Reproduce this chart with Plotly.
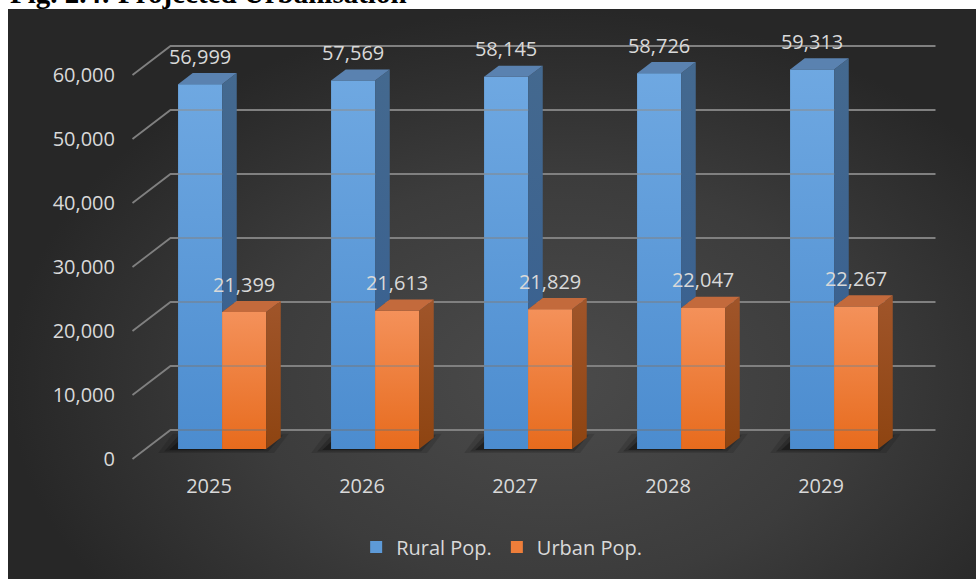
import plotly.graph_objects as go

# ---------------- data ----------------
years = ["2025", "2026", "2027", "2028", "2029"]
rural_pop = [56999, 57569, 58145, 58726, 59313]
urban_pop = [21399, 21613, 21829, 22047, 22267]
value_ticks = [0, 10000, 20000, 30000, 40000, 50000, 60000]
series_names = ["Rural Pop.", "Urban Pop."]

# ---------------- geometry of the oblique 3-D view ----------------
W, H = 976, 579
CAT_PX = 153.0              # pixels per category
VAL_PX = 64.0 / 10000       # pixels per unit of population
X0_PX, Y0_PX = 209.0, 459.0  # pixel of (first category, 0) on the front floor edge
DEPTH_PX = (38.0, 29.0)     # screen shift from front (z=0) to back wall (z=1)
Z_FRONT, Z_BACK = 0.345, 0.73
BAR_W = 44.0 / CAT_PX

TEXT = "#d9d9d9"
FONT = "Open Sans, Noto Sans, sans-serif"


def to_u(px):
    return (px - X0_PX) / CAT_PX


def to_v(py):
    return (Y0_PX - py) / VAL_PX


DXZ = DEPTH_PX[0] / CAT_PX
DYZ = DEPTH_PX[1] / VAL_PX


def proj(u, v, z):
    return u + z * DXZ, v + z * DYZ


fig = go.Figure()

# dark radial backdrop (its own full-page subplot)
fig.add_trace(go.Scatter(
    x=[8, 1100, 1100, 8, 8], y=[9, 9, 751, 751, 9],
    mode="lines", fill="toself", line=dict(width=0),
    fillgradient=dict(type="radial",
                      colorscale=[[0, "#4b4b4b"], [0.55, "#3c3c3c"], [1, "#272727"]]),
    hoverinfo="skip", showlegend=False, xaxis="x", yaxis="y"))

# side wall diagonals and back wall grid lines
gx, gy = [], []
for t in value_ticks:
    for u, z in [(-0.5, 0), (-0.5, 1), (len(years) - 0.5, 1)]:
        x, y = proj(u, t, z)
        gx.append(x)
        gy.append(y)
    gx.append(None)
    gy.append(None)
fig.add_trace(go.Scatter(x=gx, y=gy, mode="lines",
                         line=dict(color="#808080", width=1.8),
                         hoverinfo="skip", showlegend=False,
                         xaxis="x2", yaxis="y2"))

series = [rural_pop, urban_pop]
front_colors = ["#5d9ad8", "#ee7e3a"]
front_grad = [
    [[0, "rgba(58,126,198,0.5)"], [1, "rgba(128,182,235,0.5)"]],
    [[0, "rgba(224,88,0,0.5)"], [1, "rgba(250,164,122,0.5)"]],
]
top_colors = ["#5a82b0", "#c36a3c"]
side_grad = [
    [[0, "#3b6290"], [1, "#44698f"]],
    [[0, "#8e4411"], [1, "#a0552a"]],
]

# front faces as bars
for s, vals in enumerate(series):
    fig.add_trace(go.Bar(
        x=[i + Z_FRONT * DXZ for i in range(len(years))],
        y=vals, base=Z_FRONT * DYZ,
        width=BAR_W, offset=-BAR_W if s == 0 else 0,
        marker=dict(color=front_colors[s], line=dict(width=0)),
        name=series_names[s], xaxis="x2", yaxis="y2",
        customdata=years, hovertemplate="%{customdata}: %{y:,}<extra></extra>"))


def face(points, color=None, grad=None):
    xs, ys = [], []
    for p in points + points[:1]:
        x, y = proj(*p)
        xs.append(x)
        ys.append(y)
    kw = dict(x=xs, y=ys, mode="lines", fill="toself", line=dict(width=0),
              hoverinfo="skip", showlegend=False, xaxis="x2", yaxis="y2")
    if grad is not None:
        kw["fillgradient"] = dict(type="vertical", colorscale=grad)
    else:
        kw["fillcolor"] = color
    fig.add_trace(go.Scatter(**kw))


# top / side faces and shading of the fronts
for i in range(len(years)):
    for s, vals in enumerate(series):
        val = vals[i]
        u0 = i - BAR_W if s == 0 else i
        u1 = u0 + BAR_W
        lo = urban_pop[i] if s == 0 else 0
        face([(u0, 0, Z_FRONT), (u1, 0, Z_FRONT), (u1, val, Z_FRONT), (u0, val, Z_FRONT)],
             grad=front_grad[s])
        face([(u1, lo, Z_FRONT), (u1, val, Z_FRONT), (u1, val, Z_BACK), (u1, lo, Z_BACK)],
             grad=side_grad[s])
        face([(u0, val, Z_FRONT), (u1, val, Z_FRONT), (u1, val, Z_BACK), (u0, val, Z_BACK)],
             color=top_colors[s])

# value labels
LABEL_LIFT = 25.5 / VAL_PX
for s, vals in enumerate(series):
    xs, ys = [], []
    for i, val in enumerate(vals):
        uc = i - BAR_W / 2 if s == 0 else i + BAR_W / 2
        x, y = proj(uc, val, Z_FRONT)
        xs.append(x)
        ys.append(y + LABEL_LIFT)
    fig.add_trace(go.Scatter(x=xs, y=ys, mode="text",
                             text=[f"{v:,}" for v in vals],
                             textposition="middle center",
                             textfont=dict(family=FONT, size=20, color=TEXT),
                             cliponaxis=False, hoverinfo="skip", showlegend=False,
                             xaxis="x2", yaxis="y2"))

# soft floor shadows under each pair of bars
shapes = []
for i in range(len(years)):
    for ex, ey, a in [(14, 4, 0.12), (8, 2.5, 0.2), (3, 1, 0.32)]:
        dx, dy = ex / CAT_PX, ey / VAL_PX
        sh = -6 / CAT_PX
        corners = [(i - BAR_W - dx + sh, -dy, Z_FRONT), (i + BAR_W + dx + sh, -dy, Z_FRONT),
                   (i + BAR_W + dx + sh, dy, Z_BACK), (i - BAR_W - dx + sh, dy, Z_BACK)]
        pts = [proj(*c) for c in corners]
        path = "M" + " L".join(f"{x:.5f},{y:.3f}" for x, y in pts) + " Z"
        shapes.append(dict(type="path", path=path, xref="x2", yref="y2",
                           layer="below", line=dict(width=0),
                           fillcolor=f"rgba(0,0,0,{a})"))

axis_font = dict(family=FONT, size=20, color=TEXT)
fig.update_layout(
    width=W, height=H,
    margin=dict(l=0, r=0, t=0, b=0),
    paper_bgcolor="white", plot_bgcolor="rgba(0,0,0,0)",
    barmode="overlay",
    shapes=shapes,
    xaxis=dict(domain=[0, 1], range=[0, W], visible=False, fixedrange=True),
    yaxis=dict(domain=[0, 1], range=[H, 0], visible=False, fixedrange=True),
    xaxis2=dict(domain=[0, 1], range=[to_u(0), to_u(W)], anchor="free",
                position=1 - 472 / H, tickvals=list(range(len(years))), ticktext=years,
                showgrid=False, zeroline=False, showline=False, ticks="",
                tickfont=axis_font, fixedrange=True),
    yaxis2=dict(domain=[0, 1], range=[to_v(H), to_v(0)], anchor="free",
                position=115 / W, tickvals=value_ticks, tickformat=",",
                showgrid=False, zeroline=False, showline=False, ticks="",
                tickfont=axis_font, fixedrange=True),
    legend=dict(orientation="h", x=0.514, xanchor="center", y=1 - 547 / H,
                yanchor="middle", font=dict(family=FONT, size=20, color=TEXT),
                bgcolor="rgba(0,0,0,0)"),
    annotations=[dict(text="<b>Fig. 2.4: Projected Urbanisation</b>",
                      xref="paper", yref="paper", x=8 / W, y=1 - 11 / H,
                      xanchor="left", yanchor="bottom", showarrow=False,
                      font=dict(family="Liberation Serif, Times New Roman, serif",
                                size=29, color="black"))],
)

fig.write_html("out.html")
